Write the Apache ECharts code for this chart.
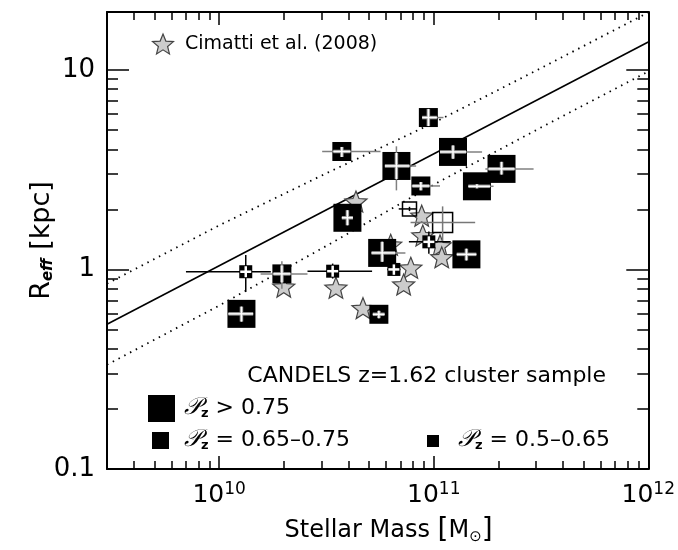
<!DOCTYPE html>
<html><head><meta charset="utf-8">
<script src="https://cdn.jsdelivr.net/npm/echarts@6/dist/echarts.min.js"></script>
<style>html,body{margin:0;padding:0;background:#fff}#c{width:678px;height:550px}</style>
</head><body><div id="c"></div>
<script>
// ---- tick values / labels ----
const xMajor = [1e10, 1e11, 1e12];
const xTickExp = ['10', '11', '12'];
const xMinor = [4e9,5e9,6e9,7e9,8e9,9e9,2e10,3e10,4e10,5e10,6e10,7e10,8e10,9e10,2e11,3e11,4e11,5e11,6e11,7e11,8e11,9e11];
const yMajor = [0.1, 1, 10];
const yTickLabels = ['0.1', '1', '10'];
const yMinor = [0.2,0.3,0.4,0.5,0.6,0.7,0.8,0.9,2,3,4,5,6,7,8,9];

// ---- data: [mass, reff, massLo, massHi, reffLo, reffHi] ----
const largeSample = [
  [6.7e10, 3.30, 5.92e10, 8.28e10, 2.49, 4.14],
  [1.23e11, 3.88, 1.07e11, 1.68e11, 3.59, 4.18],
  [2.07e11, 3.19, 1.74e11, 2.92e11, 2.99, 3.46],
  [1.59e11, 2.61, 1.45e11, 1.90e11, 2.55, 2.67],
  [3.96e10, 1.815, 3.73e10, 4.20e10, 1.665, 1.98],
  [1.42e11, 1.19, 1.28e11, 1.58e11, 1.11, 1.27],
  [5.75e10, 1.21, 5.13e10, 7.38e10, 1.093, 1.375],
  [1.27e10, 0.599, 1.10e10, 1.44e10, 0.548, 0.651]
];
const mediumSample = [
  [9.44e10, 5.77, 8.83e10, 1.11e11, 5.23, 6.38],
  [3.73e10, 3.90, 3.02e10, 5.65e10, 3.66, 4.11],
  [8.71e10, 2.62, 7.83e10, 1.07e11, 2.49, 2.74],
  [1.96e10, 0.95, 1.56e10, 2.58e10, 0.80, 1.10],
  [5.55e10, 0.596, 5.2e10, 5.9e10, 0.57, 0.62]
];
const smallSample = [
  [1.33e10, 0.974, 7.0e9, 1.74e10, 0.774, 1.18],
  [3.38e10, 0.98, 2.58e10, 5.16e10, 0.90, 1.07],
  [9.49e10, 1.375, 7.66e10, 1.20e11, 1.20, 1.55],
  [6.52e10, 1.00, 6.07e10, 7.0e10, 0.94, 1.06]
];
const openSmall = [
  [7.71e10, 2.01, 6.87e10, 8.34e10, 1.96, 2.06]
];
const openMedium = [
  [1.10e11, 1.72, 7.8e10, 1.56e11, 1.38, 2.07]
];
const cimattiMass = [4.34e10, 8.79e10, 8.89e10, 1.07e11, 1.09e11, 7.82e10, 7.24e10, 3.50e10, 2.0e10, 4.68e10, 6.3e10];
const cimattiReff = [2.19, 1.86, 1.48, 1.32, 1.15, 1.02, 0.84, 0.81, 0.82, 0.64, 1.33];

// local relation (solid) and its scatter (dotted)
const relMass = [3e9, 1e12];
const relReff = [0.531, 13.8];
const scatMass = [3e9, 1e10, 3.16e10, 1e11, 3.16e11, 1e12];
const scatUpper = [0.849, 1.663, 3.034, 5.43, 10.2, 19.4];
const scatLower = [0.333, 0.659, 1.312, 2.66, 5.14, 9.82];

// ---- helpers ----
const FONT = 'DejaVu Sans';
const STAR = 'path://M50 0 L62.93 32.2 L97.55 34.55 L70.92 56.8 L79.39 90.45 L50 72 L20.61 90.45 L29.08 56.8 L2.45 34.55 L37.07 32.2 Z';
const zip = (a, b) => a.map((v, i) => [v, b[i]]);
function starPoints(cx, cy, R) {
  const pts = [];
  for (let k = 0; k < 10; k++) {
    const ang = -Math.PI / 2 + k * Math.PI / 5;
    const r = k % 2 === 0 ? R : R * 0.44;
    pts.push([cx + r * Math.cos(ang), cy + r * Math.sin(ang)]);
  }
  return pts;
}

function squareRenderer(size, hollow, outColor, inner) {
  return function (params, api) {
    const c = api.coord([api.value(0), api.value(1)]);
    const xl = api.coord([api.value(2), api.value(1)])[0];
    const xh = api.coord([api.value(3), api.value(1)])[0];
    const yl = api.coord([api.value(0), api.value(4)])[1];
    const yh = api.coord([api.value(0), api.value(5)])[1];
    const h = size / 2;
    const seg = (x1, y1, x2, y2, color, w) => ({type: 'line', shape: {x1, y1, x2, y2}, style: {stroke: color, lineWidth: w}});
    const ch = [];
    ch.push({type: 'rect', shape: {x: c[0] - h, y: c[1] - h, width: size, height: size},
      style: hollow ? {fill: 'rgba(0,0,0,0)', stroke: '#000', lineWidth: 1.5} : {fill: '#000'}});
    ch.push(seg(xl, c[1], xh, c[1], outColor, 1.5));
    ch.push(seg(c[0], yh, c[0], yl, outColor, 1.5));
    if (!hollow) {
      const ix1 = Math.max(xl, c[0] - h + 1), ix2 = Math.min(xh, c[0] + h - 1);
      const iy1 = Math.max(yh, c[1] - h + 1), iy2 = Math.min(yl, c[1] + h - 1);
      if (inner) {
        ch.push(seg(ix1, c[1], ix2, c[1], '#999', 3.5));
        ch.push(seg(c[0], iy1, c[0], iy2, '#999', 3.5));
        ch.push(seg(ix1, c[1], ix2, c[1], '#fff', 1.5));
        ch.push(seg(c[0], iy1, c[0], iy2, '#fff', 1.5));
      } else {
        ch.push(seg(ix1, c[1], ix2, c[1], '#fff', 2.5));
        ch.push(seg(c[0], iy1, c[0], iy2, '#fff', 2.5));
      }
    }
    return {type: 'group', children: ch};
  };
}
function squareSeries(name, data, size, hollow, outColor, inner) {
  return {name, type: 'custom', xAxisIndex: 0, yAxisIndex: 0, z: 5,
    dimensions: ['m', 'r', 'ml', 'mh', 'rl', 'rh'], encode: {x: 0, y: 1},
    data, renderItem: squareRenderer(size, hollow, outColor, inner)};
}
function xAx(pos, ticks, len, showLine, showLabel) {
  return {type: 'log', gridIndex: 0, position: pos, min: 3e9, max: 1e12,
    axisLine: {show: showLine, onZero: false, lineStyle: {color: '#000', width: 2}},
    axisTick: {show: true, inside: true, length: len, customValues: ticks, lineStyle: {color: '#000', width: 1.5}},
    axisLabel: showLabel ? {show: true, customValues: xMajor, margin: 12,
      formatter: v => { const i = xMajor.findIndex(t => Math.abs(Math.log10(t) - Math.log10(v)) < 1e-6); return '{b|10}{s|' + xTickExp[i] + '}'; },
      rich: {b: {fontFamily: FONT, fontSize: 25, color: '#000'}, s: {fontFamily: FONT, fontSize: 17, color: '#000', padding: [0, 0, 12, 0]}}} : {show: false},
    splitLine: {show: false}, minorTick: {show: false}};
}
function yAx(pos, ticks, len, showLine, showLabel) {
  return {type: 'log', gridIndex: 0, position: pos, min: 0.1, max: 19.5,
    axisLine: {show: showLine, onZero: false, lineStyle: {color: '#000', width: 2}},
    axisTick: {show: true, inside: true, length: len, customValues: ticks, lineStyle: {color: '#000', width: 1.5}},
    axisLabel: showLabel ? {show: true, customValues: yMajor, margin: 12, fontFamily: FONT, fontSize: 26, color: '#000',
      formatter: v => yTickLabels[yMajor.findIndex(t => Math.abs(Math.log10(t) - Math.log10(v)) < 1e-6)]} : {show: false},
    splitLine: {show: false}, minorTick: {show: false}};
}

const xAxes = [xAx('bottom', xMajor, 13, true, true), xAx('bottom', xMinor, 8, false, false),
               xAx('top', xMajor, 13, true, false), xAx('top', xMinor, 8, false, false)];
xAxes[0].name = 'Stellar Mass {o|[}M{sub|⊙}{o|]}';
xAxes[0].nameLocation = 'middle';
xAxes[0].nameGap = 48;
xAxes[0].nameTextStyle = {fontFamily: FONT, fontSize: 24, color: '#000', padding: [0, 0, 0, 22],
  rich: {o: {fontFamily: FONT, fontSize: 28, color: '#000'}, sub: {fontFamily: FONT, fontSize: 15, color: '#000', padding: [12, 0, 0, 0]}}};
const yAxes = [yAx('left', yMajor, 22, true, true), yAx('left', yMinor, 11, false, false),
               yAx('right', yMajor, 22, true, false), yAx('right', yMinor, 11, false, false)];
yAxes[0].name = 'R{sub|eff} [kpc]';
yAxes[0].nameLocation = 'middle';
yAxes[0].nameRotate = 90;
yAxes[0].nameGap = 51;
yAxes[0].nameMoveOverlap = false;
yAxes[0].nameTextStyle = {fontFamily: FONT, fontSize: 27, color: '#000',
  rich: {sub: {fontFamily: FONT, fontSize: 15, fontWeight: 'bold', fontStyle: 'italic', color: '#000', padding: [13, 0, 0, 0]}}};

const legendRich = {p: {fontFamily: 'DejaVu Serif', fontStyle: 'italic', fontSize: 24, color: '#000'},
  z: {fontFamily: FONT, fontWeight: 'bold', fontSize: 13, color: '#000', padding: [12, 7, 0, 0]},
  t: {fontFamily: FONT, fontSize: 22, color: '#000'}};

const option = {
  animation: false,
  backgroundColor: '#fff',
  grid: {left: 107, right: 28, top: 12, bottom: 80, containLabel: false},
  xAxis: xAxes,
  yAxis: yAxes,
  series: [
    {type: 'line', name: 'relation', data: zip(relMass, relReff), symbol: 'none', z: 1,
      lineStyle: {color: '#000', width: 1.6}},
    {type: 'line', name: 'scatter+', data: zip(scatMass, scatUpper), symbol: 'none', smooth: false, z: 1,
      lineStyle: {color: '#000', width: 1.8, type: [1.5, 5]}},
    {type: 'line', name: 'scatter-', data: zip(scatMass, scatLower), symbol: 'none', smooth: false, z: 1,
      lineStyle: {color: '#000', width: 1.8, type: [1.5, 5]}},
    {type: 'scatter', name: 'Cimatti et al. (2008)', data: zip(cimattiMass, cimattiReff), z: 2,
      symbol: STAR, symbolSize: 22, symbolKeepAspect: true,
      itemStyle: {color: '#cccccc', borderColor: '#444', borderWidth: 1.2, opacity: 1}},
    squareSeries('open', openSmall, 14, true, '#000', false),
    squareSeries('open2', openMedium, 20, true, '#777', false),
    squareSeries('Pz > 0.75', largeSample, 28, false, '#808080', true),
    squareSeries('Pz = 0.65-0.75', mediumSample, 19, false, '#808080', true),
    squareSeries('Pz = 0.5-0.65', smallSample, 13, false, '#000', false)
  ],
  graphic: [
    {type: 'polygon', shape: {points: starPoints(163, 45, 11)},
      style: {fill: '#cccccc', stroke: '#444', lineWidth: 1.2}},
    {type: 'text', x: 185, y: 44, style: {text: 'Cimatti et al. (2008)', fontFamily: FONT, fontSize: 19, fill: '#000', verticalAlign: 'middle'}},
    {type: 'text', x: 606, y: 376, style: {text: 'CANDELS z=1.62 cluster sample', fontFamily: FONT, fontSize: 22, fill: '#000', align: 'right', verticalAlign: 'middle'}},
    {type: 'rect', shape: {x: 148, y: 395, width: 27, height: 27}, style: {fill: '#000'}},
    {type: 'text', x: 184, y: 408, style: {text: '{p|𝒫}{z|z}{t|> 0.75}', rich: legendRich, verticalAlign: 'middle'}},
    {type: 'rect', shape: {x: 152, y: 432, width: 17, height: 17}, style: {fill: '#000'}},
    {type: 'text', x: 184, y: 440, style: {text: '{p|𝒫}{z|z}{t|= 0.65–0.75}', rich: legendRich, verticalAlign: 'middle'}},
    {type: 'rect', shape: {x: 427, y: 435, width: 12, height: 12}, style: {fill: '#000'}},
    {type: 'text', x: 458, y: 440, style: {text: '{p|𝒫}{z|z}{t|= 0.5–0.65}', rich: legendRich, verticalAlign: 'middle'}}
  ]
};
const chart = echarts.init(document.getElementById('c'), null, {renderer: 'canvas'});
chart.setOption(option);
</script></body></html>
